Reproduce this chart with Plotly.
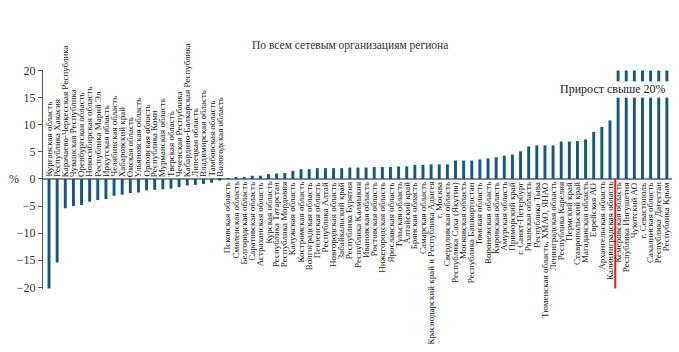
import plotly.graph_objects as go

categories = [
    "Курганская область", "Республика Хакасия", "Карачаево-Черкесская Республика",
    "Чувашская Республика", "Оренбургская область", "Новосибирская область",
    "Республика Марий Эл", "Иркутская область", "Челябинская область",
    "Хабаровский край", "Омская область", "Ульяновская область",
    "Орловская область", "Республика Коми", "Мурманская область",
    "Тверская область", "Чеченская Республика", "Кабардино-Балкарская Республика",
    "Липецкая область", "Владимирская область", "Тамбовская область",
    "Вологодская область",
    "Псковская область", "Смоленская область", "Белгородская область",
    "Саратовская область", "Астраханская область", "Курская область",
    "Республика Татарстан", "Республика Мордовия", "Калужская область",
    "Костромская область", "Волгоградская область", "Пензенская область",
    "Республика Алтай", "Новгородская область", "Забайкальский край",
    "Республика Бурятия", "Республика Калмыкия", "Ивановская область",
    "Ростовская область", "Нижегородская область", "Ярославская область",
    "Тульская область", "Алтайский край", "Брянская область",
    "Самарская область", "Краснодарский край и Республика Адыгея", "г. Москва",
    "Свердловская область", "Республика Саха (Якутия)", "Московская область",
    "Республика Башкортостан", "Томская область", "Воронежская область",
    "Кировская область", "Амурская область", "Приморский край",
    "г. Санкт-Петербург", "Рязанская область", "Республика Тыва",
    "Тюменская область, ХМАО, ЯНАО", "Ленинградская область", "Республика Карелия",
    "Пермский край", "Ставропольский край", "Магаданская область",
    "Еврейская АО", "Архангельская область", "Калининградская область",
    "Кемеровская область", "Республика Ингушетия", "Чукотский АО",
    "г. Севастополь", "Сахалинская область", "Республика Дагестан",
    "Республика Крым",
]

# growth, %; the last seven regions exceed 20 % (drawn with a broken bar)
values = [
    -20.2, -15.4, -5.4, -5.0, -4.8, -4.2, -3.9, -3.7, -3.1, -2.9, -2.6, -2.5,
    -2.1, -2.0, -1.9, -1.8, -1.5, -1.2, -1.1, -0.9, -0.7, -0.3,
    0.05, 0.2, 0.3, 0.6, 0.6, 0.9, 1.0, 1.1, 1.5, 1.8, 1.8, 2.0, 2.0, 2.0, 2.0,
    2.1, 2.1, 2.1, 2.2, 2.2, 2.2, 2.3, 2.3, 2.6, 2.6, 2.7, 2.7, 2.7,
    3.4, 3.4, 3.4, 3.6, 3.8, 4.0, 4.3, 4.5, 5.1, 6.0, 6.2, 6.2, 6.2,
    6.9, 6.9, 7.0, 7.3, 8.7, 9.6, 10.8,
    20, 20, 20, 20, 20, 20, 20,
]

highlight = "Кемеровская область"
over_text = "Прирост свыше 20%"
title_text = "По всем сетевым организациям региона"
y_ticks = [-20, -15, -10, -5, 0, 5, 10, 15, 20]

OVER = 20
BREAK_LOW = 15
BREAK_HIGH = 18

BAR_COLOR = "#15587f"
FONT = "Liberation Serif"

xs = list(range(len(categories)))
low_y = [min(v, BREAK_LOW) if v >= OVER else v for v in values]
top_y = [(v - BREAK_HIGH) if v >= OVER else None for v in values]
top_base = [BREAK_HIGH if v >= OVER else None for v in values]

fig = go.Figure()
fig.add_trace(go.Bar(x=xs, y=low_y, marker_color=BAR_COLOR, width=0.36,
                     marker_line_width=0, hoverinfo="skip"))
fig.add_trace(go.Bar(x=xs, y=top_y, base=top_base, marker_color=BAR_COLOR,
                     width=0.36, marker_line_width=0, hoverinfo="skip"))

annotations = []
for i, (c, v) in enumerate(zip(categories, values)):
    if v < 0:
        annotations.append(dict(x=i, y=0, xref="x", yref="y", text=c,
                                textangle=-90, showarrow=False,
                                xanchor="center", yanchor="bottom", yshift=0,
                                font=dict(family=FONT, size=9, color="#222")))
    else:
        annotations.append(dict(x=i, y=0, xref="x", yref="y", text=c,
                                textangle=-90, showarrow=False,
                                xanchor="center", yanchor="top", yshift=-1,
                                font=dict(family=FONT, size=9, color="#222")))

annotations.append(dict(x=len(categories) - 0.9, y=16.6, xref="x", yref="y",
                        text=over_text, showarrow=False, xanchor="right",
                        yanchor="middle",
                        font=dict(family=FONT, size=12, color="#222")))
annotations.append(dict(x=0.488, y=1, xref="paper", yref="paper",
                        text=title_text, showarrow=False, xanchor="center",
                        yanchor="bottom", yshift=16,
                        font=dict(family=FONT, size=11.5, color="#333")))
annotations.append(dict(x=-0.046, y=0, xref="paper", yref="y", text="%",
                        showarrow=False, xanchor="center", yanchor="middle",
                        font=dict(family=FONT, size=12, color="#333")))

hi = categories.index(highlight)
shapes = [dict(type="line", xref="x", yref="y", x0=hi - 0.35, x1=hi - 0.35,
               y0=0, y1=-20.2, line=dict(color="#ee1c1c", width=2))]

fig.update_layout(
    width=679, height=352,
    margin=dict(l=43, r=7, t=70, b=63),
    paper_bgcolor="white", plot_bgcolor="white",
    barmode="overlay", showlegend=False,
    annotations=annotations, shapes=shapes,
    font=dict(family=FONT, color="#333"),
    xaxis=dict(range=[-0.74, len(categories) - 0.37], visible=False),
    yaxis=dict(range=[-20.3, 20.1], tickvals=y_ticks, showgrid=False,
               showline=True, linecolor="#555", linewidth=1,
               ticks="outside", ticklen=4, tickcolor="#555",
               tickfont=dict(family=FONT, size=12, color="#333"),
               zeroline=True, zerolinecolor="#8a8a8a", zerolinewidth=1.5),
)

fig.write_html("out.html")
